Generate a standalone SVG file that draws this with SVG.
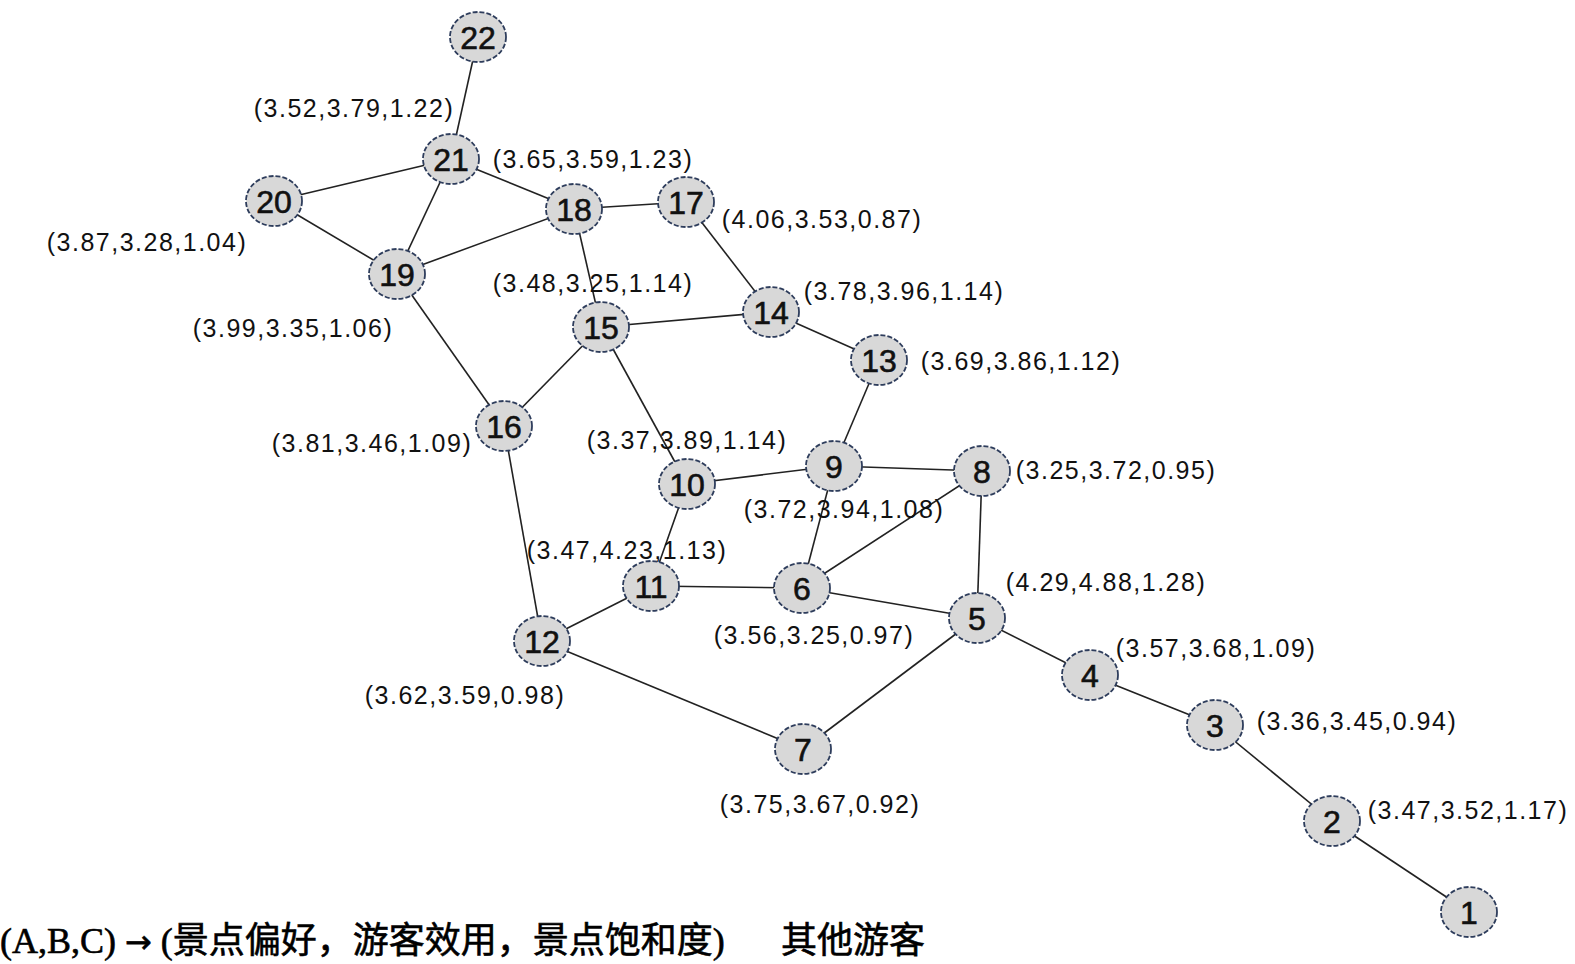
<svg xmlns="http://www.w3.org/2000/svg" width="1575" height="964" viewBox="0 0 1575 964">
<style>
.e{stroke:#222;stroke-width:1.6;fill:none}
.n ellipse{fill:#d8d8d8;stroke:#2e3d5c;stroke-width:1.8;stroke-dasharray:5 2}
.n text{font-family:"Liberation Sans",Arial,sans-serif;font-size:32px;fill:#111;stroke:#111;stroke-width:0.6;text-anchor:middle;dominant-baseline:central}
.l{font-family:"Liberation Sans",Arial,sans-serif;font-size:25px;fill:#111;text-anchor:middle;dominant-baseline:central;letter-spacing:1.5px}
.cap{font-family:"Liberation Serif","Noto Sans CJK SC",serif;font-size:36px;fill:#000;stroke:#000;stroke-width:0.6}
.arr{font-family:"DejaVu Sans",sans-serif;font-size:32px}
</style>
<rect width="1575" height="964" fill="#fff"/>
<g id="edges">
<line class="e" x1="478" y1="37" x2="451" y2="159"/>
<line class="e" x1="451" y1="159" x2="274" y2="201"/>
<line class="e" x1="451" y1="159" x2="574" y2="209"/>
<line class="e" x1="451" y1="159" x2="397" y2="274"/>
<line class="e" x1="274" y1="201" x2="397" y2="274"/>
<line class="e" x1="574" y1="209" x2="686" y2="202"/>
<line class="e" x1="574" y1="209" x2="397" y2="274"/>
<line class="e" x1="574" y1="209" x2="601" y2="327"/>
<line class="e" x1="686" y1="202" x2="771" y2="312"/>
<line class="e" x1="601" y1="327" x2="771" y2="312"/>
<line class="e" x1="601" y1="327" x2="504" y2="426"/>
<line class="e" x1="601" y1="327" x2="687" y2="484"/>
<line class="e" x1="771" y1="312" x2="879" y2="360"/>
<line class="e" x1="397" y1="274" x2="504" y2="426"/>
<line class="e" x1="879" y1="360" x2="834" y2="466"/>
<line class="e" x1="687" y1="484" x2="834" y2="466"/>
<line class="e" x1="834" y1="466" x2="982" y2="471"/>
<line class="e" x1="687" y1="484" x2="651" y2="586"/>
<line class="e" x1="834" y1="466" x2="802" y2="588"/>
<line class="e" x1="982" y1="471" x2="802" y2="588"/>
<line class="e" x1="982" y1="471" x2="977" y2="618"/>
<line class="e" x1="651" y1="586" x2="802" y2="588"/>
<line class="e" x1="802" y1="588" x2="977" y2="618"/>
<line class="e" x1="651" y1="586" x2="542" y2="641"/>
<line class="e" x1="504" y1="426" x2="542" y2="641"/>
<line class="e" x1="542" y1="641" x2="803" y2="749"/>
<line class="e" x1="803" y1="749" x2="977" y2="618"/>
<line class="e" x1="977" y1="618" x2="1090" y2="675"/>
<line class="e" x1="1090" y1="675" x2="1215" y2="725"/>
<line class="e" x1="1215" y1="725" x2="1332" y2="821"/>
<line class="e" x1="1332" y1="821" x2="1469" y2="912"/>
</g>
<g id="labels">
<text class="l" x="354" y="108">(3.52,3.79,1.22)</text>
<text class="l" x="593" y="159">(3.65,3.59,1.23)</text>
<text class="l" x="147" y="242">(3.87,3.28,1.04)</text>
<text class="l" x="822" y="219">(4.06,3.53,0.87)</text>
<text class="l" x="593" y="283">(3.48,3.25,1.14)</text>
<text class="l" x="293" y="328">(3.99,3.35,1.06)</text>
<text class="l" x="904" y="291">(3.78,3.96,1.14)</text>
<text class="l" x="1021" y="361">(3.69,3.86,1.12)</text>
<text class="l" x="372" y="443">(3.81,3.46,1.09)</text>
<text class="l" x="687" y="440">(3.37,3.89,1.14)</text>
<text class="l" x="1116" y="470">(3.25,3.72,0.95)</text>
<text class="l" x="844" y="509">(3.72,3.94,1.08)</text>
<text class="l" x="627" y="550">(3.47,4.23,1.13)</text>
<text class="l" x="1106" y="582">(4.29,4.88,1.28)</text>
<text class="l" x="814" y="635">(3.56,3.25,0.97)</text>
<text class="l" x="1216" y="648">(3.57,3.68,1.09)</text>
<text class="l" x="465" y="695">(3.62,3.59,0.98)</text>
<text class="l" x="1357" y="721">(3.36,3.45,0.94)</text>
<text class="l" x="820" y="804">(3.75,3.67,0.92)</text>
<text class="l" x="1468" y="810">(3.47,3.52,1.17)</text>
</g>
<g id="node22" class="n"><ellipse cx="478" cy="37" rx="28" ry="25"/><text x="478" y="38">22</text></g>
<g id="node21" class="n"><ellipse cx="451" cy="159" rx="28" ry="25"/><text x="451" y="160">21</text></g>
<g id="node20" class="n"><ellipse cx="274" cy="201" rx="28" ry="25"/><text x="274" y="202">20</text></g>
<g id="node18" class="n"><ellipse cx="574" cy="209" rx="28" ry="25"/><text x="574" y="210">18</text></g>
<g id="node17" class="n"><ellipse cx="686" cy="202" rx="28" ry="25"/><text x="686" y="203">17</text></g>
<g id="node19" class="n"><ellipse cx="397" cy="274" rx="28" ry="25"/><text x="397" y="275">19</text></g>
<g id="node15" class="n"><ellipse cx="601" cy="327" rx="28" ry="25"/><text x="601" y="328">15</text></g>
<g id="node14" class="n"><ellipse cx="771" cy="312" rx="28" ry="25"/><text x="771" y="313">14</text></g>
<g id="node13" class="n"><ellipse cx="879" cy="360" rx="28" ry="25"/><text x="879" y="361">13</text></g>
<g id="node16" class="n"><ellipse cx="504" cy="426" rx="28" ry="25"/><text x="504" y="427">16</text></g>
<g id="node10" class="n"><ellipse cx="687" cy="484" rx="28" ry="25"/><text x="687" y="485">10</text></g>
<g id="node9" class="n"><ellipse cx="834" cy="466" rx="28" ry="25"/><text x="834" y="467">9</text></g>
<g id="node8" class="n"><ellipse cx="982" cy="471" rx="28" ry="25"/><text x="982" y="472">8</text></g>
<g id="node11" class="n"><ellipse cx="651" cy="586" rx="28" ry="25"/><text x="651" y="587">11</text></g>
<g id="node6" class="n"><ellipse cx="802" cy="588" rx="28" ry="25"/><text x="802" y="589">6</text></g>
<g id="node5" class="n"><ellipse cx="977" cy="618" rx="28" ry="25"/><text x="977" y="619">5</text></g>
<g id="node12" class="n"><ellipse cx="542" cy="641" rx="28" ry="25"/><text x="542" y="642">12</text></g>
<g id="node4" class="n"><ellipse cx="1090" cy="675" rx="28" ry="25"/><text x="1090" y="676">4</text></g>
<g id="node3" class="n"><ellipse cx="1215" cy="725" rx="28" ry="25"/><text x="1215" y="726">3</text></g>
<g id="node7" class="n"><ellipse cx="803" cy="749" rx="28" ry="25"/><text x="803" y="750">7</text></g>
<g id="node2" class="n"><ellipse cx="1332" cy="821" rx="28" ry="25"/><text x="1332" y="822">2</text></g>
<g id="node1" class="n"><ellipse cx="1469" cy="912" rx="28" ry="25"/><text x="1469" y="913">1</text></g>
<g id="caption">
<text class="cap" x="0" y="953">(A,B,C) <tspan class="arr">→</tspan> (景点偏好，游客效用，景点饱和度)</text>
<text class="cap" x="781" y="953">其他游客</text>
</g>
</svg>
